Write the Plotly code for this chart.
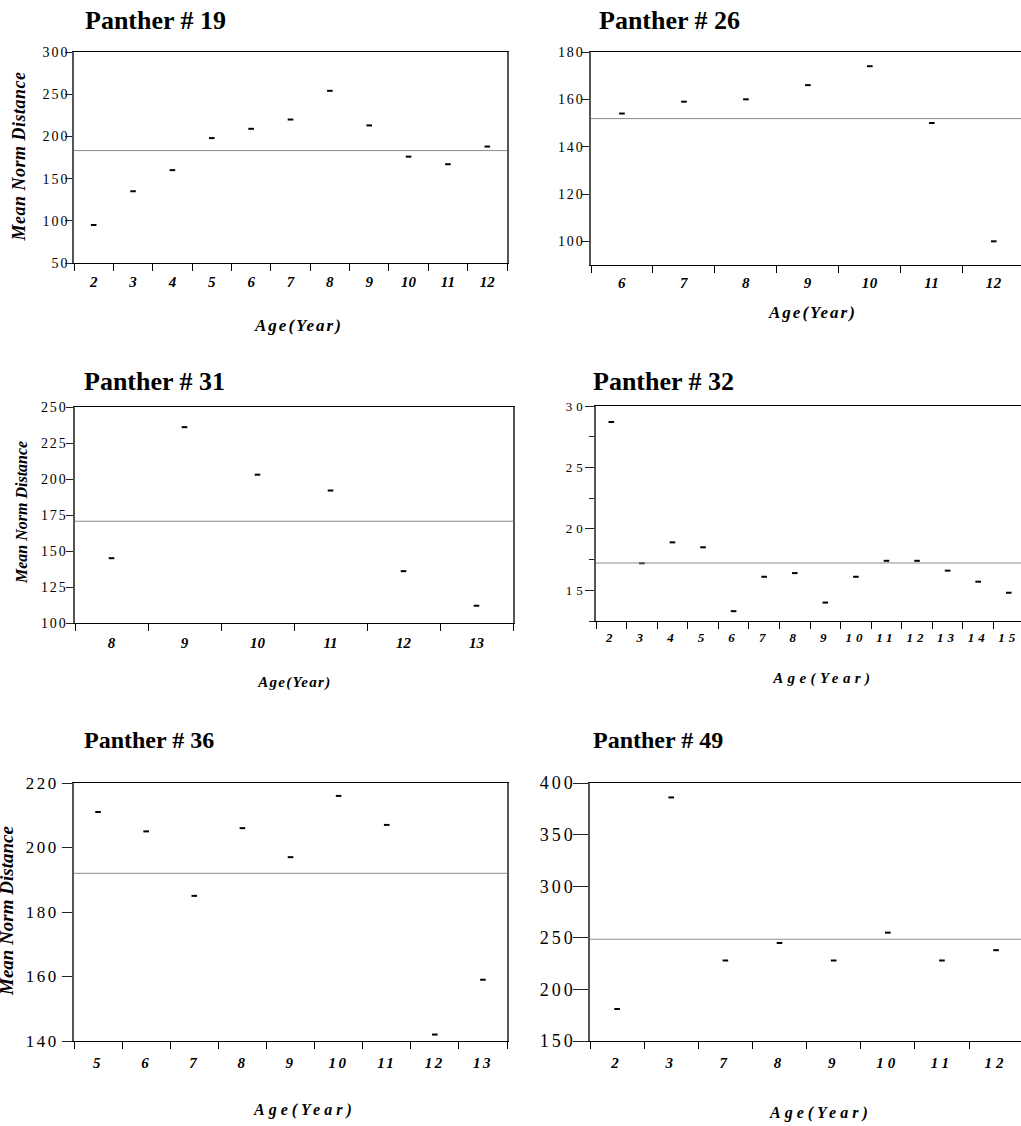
import json
import plotly.graph_objects as go
import numpy as np

W, H = 1021, 1126
SERIF = "Liberation Serif"

# ---------------- data ----------------
ages_19 = [2, 3, 4, 5, 6, 7, 8, 9, 10, 11, 12]
dist_19 = [95, 135, 160, 198, 209, 220, 254, 213, 176, 167, 188]

ages_26 = [6, 7, 8, 9, 10, 11, 12]
dist_26 = [154, 159, 160, 166, 174, 150, 100]

ages_31 = [8, 9, 10, 11, 12, 13]
dist_31 = [145, 236, 203, 192, 136, 112]

ages_32 = [2, 3, 4, 5, 6, 7, 8, 9, 10, 11, 12, 13, 14, 15]
dist_32 = [28.7, 17.2, 18.9, 18.5, 13.3, 16.1, 16.4, 14.0, 16.1, 17.4, 17.4, 16.6, 15.7, 14.8]

ages_36 = [5, 6, 7, 8, 9, 10, 11, 12, 13]
dist_36 = [211, 205, 185, 206, 197, 216, 207, 142, 159]

ages_49 = [2, 3, 7, 8, 9, 10, 11, 12]
dist_49 = [181, 386, 228, 245, 228, 255, 228, 238]

titles = ["Panther # 19", "Panther # 26", "Panther # 31", "Panther # 32", "Panther # 36", "Panther # 49"]
y_title = "Mean Norm Distance"
x_title = "Age(Year)"

# ---------------- layout / style per panel ----------------
panels = [
    dict(ages=ages_19, vals=dist_19, box=(74, 507, 52, 263), yr=[50, 300], dtick=50,
         xr_hi=None, mirror_y=True, ytf=14, yls=2, ylen=7, ystand=-7, xtf=15, xls=0, xstand=5,
         title=(83, 21, 26), xt=(298, 325, 17, 2), yt=(19, 157, 18, 0.5)),
    dict(ages=ages_26, vals=dist_26, box=(591, 1021, 52, 265), yr=[90, 180], dtick=20,
         xr_hi=6.44, mirror_y=False, ytf=14, yls=1.8, ylen=7, ystand=-5, xtf=15, xls=0.5, xstand=4,
         title=(597, 21, 26), xt=(812, 312, 17, 2), yt=None),
    dict(ages=ages_31, vals=dist_31, box=(75, 513, 407, 623), yr=[100, 250], dtick=25,
         xr_hi=None, mirror_y=True, ytf=14, yls=1.8, ylen=7, ystand=-4, xtf=15, xls=0, xstand=6,
         title=(82, 381, 26), xt=(294, 682, 15, 1.3), yt=(21, 513, 16, 0)),
    dict(ages=ages_32, vals=dist_32, box=(596, 1021, 406, 621), yr=[12.5, 30], dtick=5,
         xr_hi=13.4, mirror_y=False, ytf=13, yls=4, ylen=9, ystand=-4, xtf=13, xls=4, xstand=4,
         title=(591, 381, 26), xt=(823, 678, 15, 4.4), yt=None, minor=2.5),
    dict(ages=ages_36, vals=dist_36, box=(74, 507, 783, 1041), yr=[140, 220], dtick=20,
         xr_hi=None, mirror_y=True, ytf=17, yls=2.5, ylen=10, ystand=0, xtf=15, xls=2.5, xstand=8,
         title=(82, 740, 24), xt=(304, 1110, 16, 4), yt=(6, 911, 19, 0)),
    dict(ages=ages_49, vals=dist_49, box=(590, 1021, 783, 1041), yr=[150, 400], dtick=50,
         xr_hi=7.46, mirror_y=False, ytf=18, yls=3, ylen=15, ystand=-6, xtf=15, xls=4, xstand=8,
         title=(591, 740, 24), xt=(820, 1113, 16, 4), yt=None),
]

fig = go.Figure()
annotations = []
shapes = []
css = []


def ann(text, x, y, size, ls, xanchor="center", angle=0, bold=True, italic=True):
    annotations.append(dict(
        text=text, x=x / W, y=1 - y / H, xref="paper", yref="paper",
        xanchor=xanchor, yanchor="middle", showarrow=False, textangle=angle,
        font=dict(family=SERIF, size=size, color="black",
                  weight="bold" if bold else "normal",
                  style="italic" if italic else "normal")))
    if ls:
        css.append('.annotation[data-index="%d"] text{letter-spacing:%spx !important}' % (len(annotations) - 1, ls))


for i, p in enumerate(panels, start=1):
    sx = "" if i == 1 else str(i)
    x0, x1, y0, y1 = p["box"]
    cats = [str(a) for a in p["ages"]]
    n = len(cats)
    xr_hi = p["xr_hi"] if p["xr_hi"] is not None else n - 0.5

    fig.add_trace(go.Scatter(
        x=cats, y=p["vals"], mode="markers",
        marker=dict(symbol="line-ew", size=4, color="black", line=dict(width=2, color="black")),
        xaxis="x" + sx, yaxis="y" + sx, showlegend=False))

    fig.layout["xaxis" + sx] = dict(
        domain=[x0 / W, x1 / W], anchor="y" + sx, type="category",
        categoryorder="array", categoryarray=cats, range=[-0.5, xr_hi],
        tickson="boundaries", ticks="outside", ticklen=7, tickcolor="black", tickwidth=1,
        showline=True, linecolor="black", linewidth=1, mirror=True, automargin=False,
        showgrid=False, zeroline=False, fixedrange=True, ticklabelstandoff=p["xstand"],
        tickfont=dict(family=SERIF, size=p["xtf"], color="black", weight="bold", style="italic"))

    yax = dict(
        domain=[1 - y1 / H, 1 - y0 / H], anchor="x" + sx, range=p["yr"],
        tick0=0, dtick=p["dtick"], ticks="outside", ticklen=p["ylen"], tickcolor="#222",
        showline=True, linecolor="#555", linewidth=1.5, mirror=p["mirror_y"], automargin=False,
        showgrid=False, zeroline=False, fixedrange=True, ticklabelstandoff=p["ystand"],
        tickfont=dict(family=SERIF, size=p["ytf"], color="black"))
    if p.get("minor"):
        yax["minor"] = dict(dtick=p["minor"], ticks="outside", ticklen=5, tickcolor="#222", showgrid=False)
    fig.layout["yaxis" + sx] = yax

    mean_val = float(np.mean(p["vals"]))
    shapes.append(dict(type="line", xref="x%s domain" % sx, yref="y" + sx,
                       x0=0, x1=1, y0=mean_val, y1=mean_val,
                       line=dict(color="#8c8c8c", width=1)))

    sub = "xy" if i == 1 else "x%dy%d" % (i, i)
    for axl, ls in (("y", p["yls"]), ("x", p["xls"])):
        if ls:
            axid = axl + sx
            css.append(".subplot.%s .%stick text, .subplot.%s .%saxislayer-above text"
                       "{letter-spacing:%spx !important}" % (sub, axid, sub, axl, ls))

    tx, ty, tsz = p["title"]
    ann(titles[i - 1], tx, ty, tsz, 0, xanchor="left", italic=False)
    ax_, ay_, asz, als = p["xt"]
    ann(x_title, ax_, ay_, asz, als)
    if p["yt"]:
        yx, yy, ysz, yls = p["yt"]
        ann(y_title, yx, yy, ysz, yls, angle=-90)

fig.update_layout(
    template="none",
    width=W, height=H, autosize=False,
    margin=dict(l=0, r=0, t=0, b=0, pad=0, autoexpand=False),
    paper_bgcolor="white", plot_bgcolor="white",
    showlegend=False, annotations=annotations, shapes=shapes)

post = ("var st=document.createElement('style');st.textContent=%s;"
        "document.head.appendChild(st);document.body.style.margin='0';") % json.dumps("\n".join(css))

fig.write_html("out.html", post_script=post, config={"displayModeBar": False})
